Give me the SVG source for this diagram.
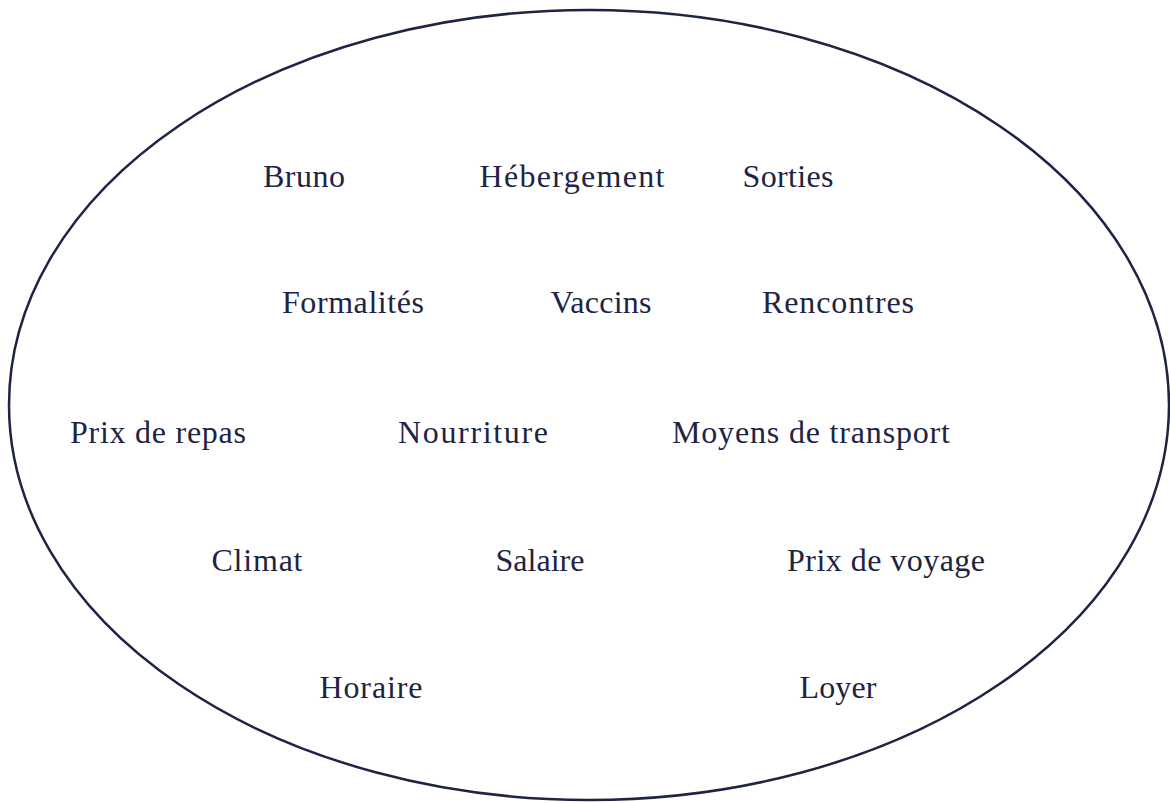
<svg xmlns="http://www.w3.org/2000/svg" width="1170" height="803" viewBox="0 0 1170 803">
<style>
.t{font-family:"Liberation Serif","DejaVu Serif",serif;font-size:32px;fill:#1e2443;text-anchor:middle}
</style>
<rect width="1170" height="803" fill="#ffffff"/>
<g id="ellipse"><ellipse cx="589" cy="405" rx="580" ry="395" fill="none" stroke="#1e2443" stroke-width="2.5"/></g>
<g id="bruno"><text class="t" x="304" y="187" textLength="82" lengthAdjust="spacing">Bruno</text></g>
<g id="hebergement"><text class="t" x="572" y="187" textLength="185" lengthAdjust="spacing">Hébergement</text></g>
<g id="sorties"><text class="t" x="788" y="187" textLength="91" lengthAdjust="spacing">Sorties</text></g>
<g id="formalites"><text class="t" x="353" y="313" textLength="142" lengthAdjust="spacing">Formalités</text></g>
<g id="vaccins"><text class="t" x="601" y="313" textLength="101" lengthAdjust="spacing">Vaccins</text></g>
<g id="rencontres"><text class="t" x="838" y="313" textLength="152" lengthAdjust="spacing">Rencontres</text></g>
<g id="prixrepas"><text class="t" x="158" y="443" textLength="176" lengthAdjust="spacing">Prix de repas</text></g>
<g id="nourriture"><text class="t" x="473" y="443" textLength="150" lengthAdjust="spacing">Nourriture</text></g>
<g id="transport"><text class="t" x="811" y="443" textLength="278" lengthAdjust="spacing">Moyens de transport</text></g>
<g id="climat"><text class="t" x="257" y="571" textLength="91" lengthAdjust="spacing">Climat</text></g>
<g id="salaire"><text class="t" x="540" y="571" textLength="89" lengthAdjust="spacing">Salaire</text></g>
<g id="prixvoyage"><text class="t" x="886" y="571" textLength="198" lengthAdjust="spacing">Prix de voyage</text></g>
<g id="horaire"><text class="t" x="371" y="698" textLength="103" lengthAdjust="spacing">Horaire</text></g>
<g id="loyer"><text class="t" x="838" y="698" textLength="77" lengthAdjust="spacing">Loyer</text></g>
<g id="connectors"></g>
</svg>
